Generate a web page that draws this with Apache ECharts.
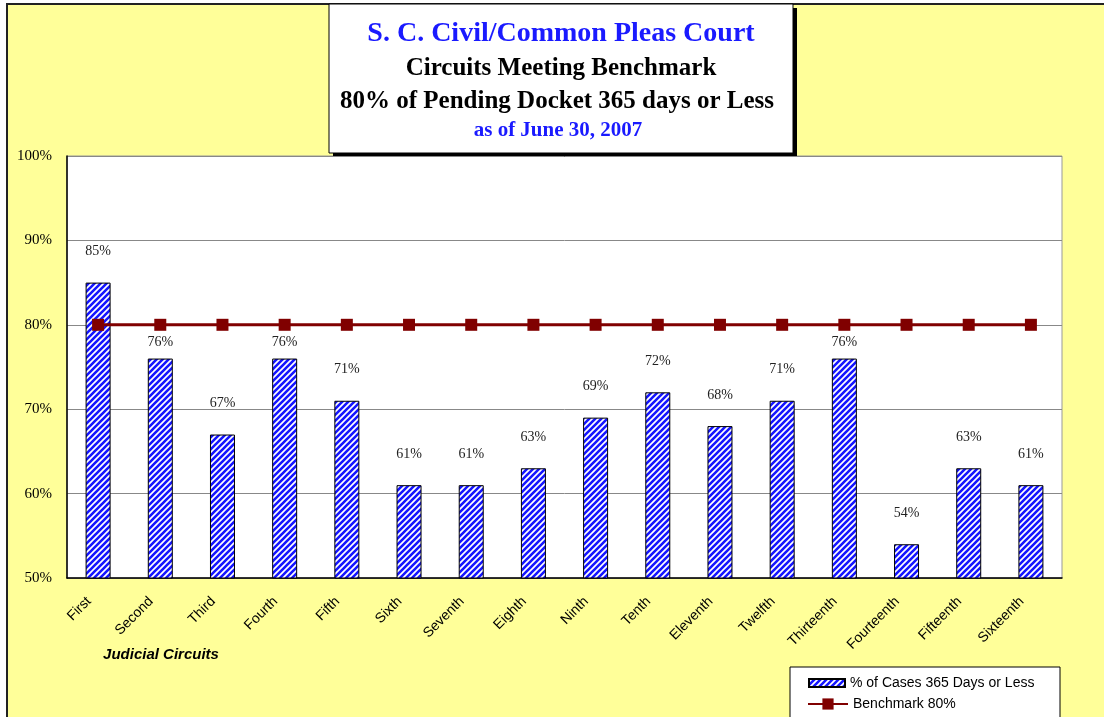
<!DOCTYPE html>
<html>
<head>
<meta charset="utf-8">
<script src="https://cdn.jsdelivr.net/npm/echarts@6/dist/echarts.min.js"></script>
<style>
  html, body { margin: 0; padding: 0; background: #fff; }
  #frame {
    position: absolute; left: 6px; top: 3px; width: 1110px; height: 730px;
    background: #ffff99; border-left: 2px solid #222; border-top: 2px solid #222;
  }
  #main { position: absolute; left: 0; top: 0; width: 1104px; height: 717px; }
</style>
</head>
<body>
<div id="frame"></div>
<div id="main"></div>
<script>
// circuits and % of cases pending 365 days or less
var circuits = ["First", "Second", "Third", "Fourth", "Fifth", "Sixth", "Seventh", "Eighth",
  "Ninth", "Tenth", "Eleventh", "Twelfth", "Thirteenth", "Fourteenth", "Fifteenth", "Sixteenth"];
var pctCases = [85, 76, 67, 76, 71, 61, 61, 63, 69, 72, 68, 71, 76, 54, 63, 61];
var benchmark = [80, 80, 80, 80, 80, 80, 80, 80, 80, 80, 80, 80, 80, 80, 80, 80];
var yTicks = { min: 50, max: 100, step: 10 };

// diagonal stripe fill like the excel pattern
function stripes() {
  var c = document.createElement("canvas");
  c.width = 6; c.height = 6;
  var ctx = c.getContext("2d");
  ctx.fillStyle = "#ffffff";
  ctx.fillRect(0, 0, 6, 6);
  ctx.strokeStyle = "#1515ff";
  ctx.lineWidth = 2.6;
  ctx.beginPath();
  ctx.moveTo(-1, 7); ctx.lineTo(7, -1);
  ctx.moveTo(-4, 4); ctx.lineTo(4, -4);
  ctx.moveTo(2, 10); ctx.lineTo(10, 2);
  ctx.stroke();
  return c;
}

var myChart = echarts.init(document.getElementById("main"));
var serif = "Liberation Serif";
var sans = "Liberation Sans";

// labels that would sit on the benchmark line are pulled down close to the bar
var barData = pctCases.map(function (v) {
  var near = v < 80 && v > 73;
  return { value: v, label: { distance: near ? 9 : 24 } };
});

var option = {
  backgroundColor: "transparent",
  animation: false,
  grid: {
    left: 67, right: 42, top: 156, bottom: 139,
    show: true, backgroundColor: "#ffffff", borderColor: "#999", borderWidth: 1
  },
  xAxis: {
    type: "category",
    data: circuits,
    axisLine: { lineStyle: { color: "#000", width: 1.5 } },
    axisTick: { show: false },
    axisLabel: {
      rotate: 45, interval: 0, margin: 12, padding: [0, 13, 0, 0],
      fontFamily: sans, fontSize: 14, color: "#000"
    }
  },
  yAxis: {
    type: "value",
    min: yTicks.min, max: yTicks.max, interval: yTicks.step,
    axisLine: { show: true, lineStyle: { color: "#000", width: 1.5 } },
    axisTick: { show: false },
    axisLabel: {
      formatter: "{value}%", margin: 15,
      fontFamily: serif, fontSize: 15, color: "#000"
    },
    splitLine: { lineStyle: { color: "#888", width: 1 } }
  },
  legend: [
    {
      left: 803, top: 671, itemWidth: 36, itemHeight: 8,
      textStyle: { fontFamily: sans, fontSize: 14, color: "#000" },
      data: [{ name: "% of Cases 365 Days or Less", icon: "rect" }]
    },
    {
      left: 802, top: 692, itemWidth: 40, itemHeight: 14,
      textStyle: { fontFamily: sans, fontSize: 14, color: "#000" },
      data: [{ name: "Benchmark 80%" }]
    }
  ],
  graphic: [
    { type: "rect", shape: { x: 333, y: 8, width: 464, height: 149 }, style: { fill: "#000" } },
    { type: "rect", shape: { x: 329, y: 4, width: 464, height: 149 }, style: { fill: "#fff", stroke: "#000", lineWidth: 1 } },
    { type: "text", style: { x: 561, y: 34, text: "S. C. Civil/Common Pleas Court", align: "center", verticalAlign: "middle", font: "bold 28px 'Liberation Serif'", fill: "#1a1aff" } },
    { type: "text", style: { x: 561, y: 69, text: "Circuits Meeting Benchmark", align: "center", verticalAlign: "middle", font: "bold 25px 'Liberation Serif'", fill: "#000" } },
    { type: "text", style: { x: 557, y: 102, text: "80% of Pending Docket 365 days or Less", align: "center", verticalAlign: "middle", font: "bold 25px 'Liberation Serif'", fill: "#000" } },
    { type: "text", style: { x: 558, y: 131, text: "as of June 30, 2007", align: "center", verticalAlign: "middle", font: "bold 21px 'Liberation Serif'", fill: "#1a1aff" } },
    { type: "text", style: { x: 161, y: 655, text: "Judicial Circuits", align: "center", verticalAlign: "middle", font: "italic bold 15px 'Liberation Sans'", fill: "#000" } },
    { type: "rect", z: -1, shape: { x: 790, y: 667, width: 270, height: 60 }, style: { fill: "#fff", stroke: "#000", lineWidth: 1 } }
  ],
  series: [
    {
      name: "% of Cases 365 Days or Less",
      type: "bar",
      data: barData,
      barWidth: 25,
      itemStyle: {
        color: { image: stripes(), repeat: "repeat" },
        borderColor: "#000", borderWidth: 1
      },
      label: {
        show: true, position: "top",
        formatter: "{c}%",
        fontFamily: serif, fontSize: 14, color: "#222"
      }
    },
    {
      name: "Benchmark 80%",
      type: "line",
      data: benchmark,
      symbol: "rect", symbolSize: 12,
      lineStyle: { color: "#800000", width: 3 },
      itemStyle: { color: "#800000" },
      z: 5
    }
  ]
};
myChart.setOption(option);
</script>
</body>
</html>
